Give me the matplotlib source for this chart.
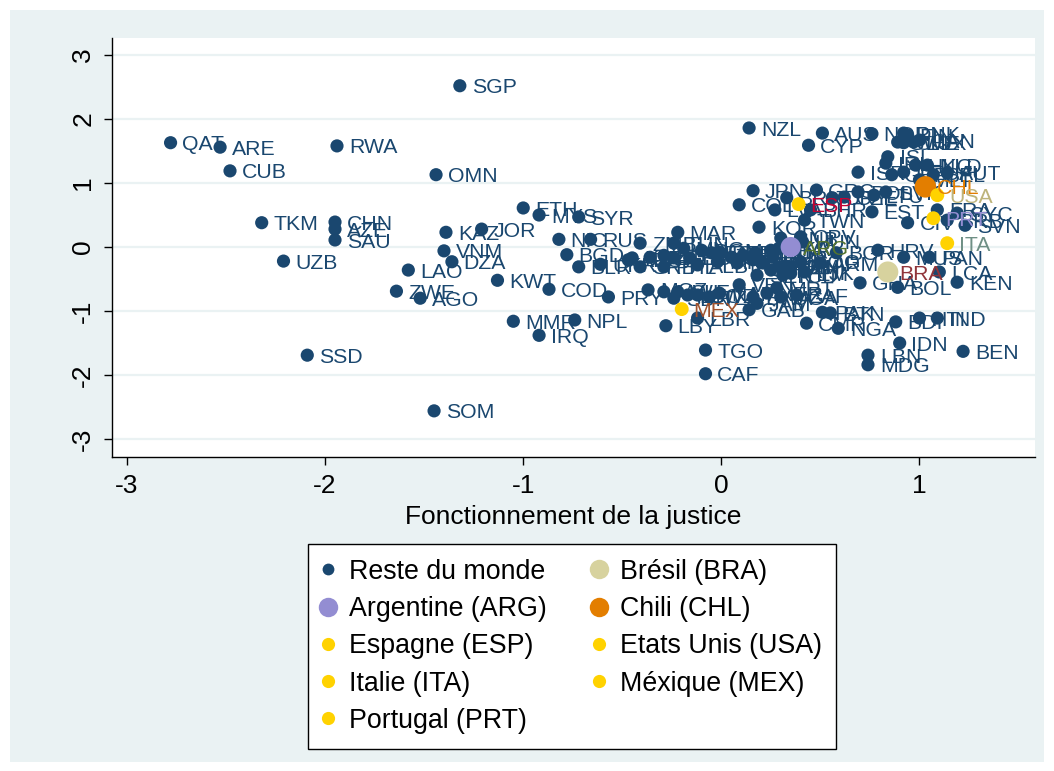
import numpy as np
import matplotlib
matplotlib.use('Agg')
import matplotlib.pyplot as plt
from matplotlib.lines import Line2D
from matplotlib.patches import Rectangle

plt.rcParams['font.family'] = ['Liberation Sans', 'DejaVu Sans']

# Reste du monde: code, fonctionnement de la justice (x), autre indice (y)
rest_codes = [
    'QAT', 'ARE', 'CUB', 'RWA', 'OMN', 'SGP', 'TKM', 'CHN', 'AZE', 'SAU',
    'UZB', 'SSD', 'SOM', 'KAZ', 'JOR', 'VNM', 'DZA', 'LAO', 'ZWE', 'AGO',
    'KWT', 'ETH', 'MYS', 'SYR', 'NIC', 'RUS', 'BGD', 'BLR', 'COD', 'PRY',
    'MMR', 'NPL', 'IRQ', 'LBY', 'TGO', 'CAF', 'MAR', 'ZMB', 'TUN', 'MNG',
    'DOM', 'ECU', 'PER', 'SLV', 'GTM', 'HND', 'THA', 'TUR', 'HUN', 'KOR',
    'IRN', 'EGY', 'GEO', 'BIH', 'SRB', 'KGZ', 'PHL', 'ALB', 'MKD', 'MNE',
    'SEN', 'BFA', 'TCD', 'GIN', 'COG', 'MOZ', 'MWI', 'SLE', 'LSO', 'SWZ',
    'TZA', 'NAM', 'VEN', 'BWA', 'NER', 'UGA', 'ZAF', 'LBR', 'GAB', 'JAM',
    'CMR', 'PAK', 'BTN', 'NGA', 'BDI', 'HTI', 'IND', 'IDN', 'LBN', 'MDG',
    'BEN', 'BGR', 'HRV', 'MUS', 'PAN', 'GHA', 'BOL', 'LCA', 'KEN', 'LKA',
    'CRI', 'TTO', 'KHM', 'ARM', 'TJK', 'YEM', 'MRT', 'SDN', 'UKR', 'AFG',
    'NZL', 'AUS', 'CYP', 'NOR', 'DNK', 'FIN', 'SWE', 'CHE', 'LUX', 'CAN',
    'ISL', 'IRL', 'ISR', 'GBR', 'DEU', 'HKG', 'NLD', 'AUT', 'BEL', 'MLT',
    'JPN', 'GRC', 'CZE', 'POL', 'LTU', 'SVK', 'COL', 'LVA', 'BRN', 'BHR',
    'URY', 'EST', 'CIV', 'FRA', 'SYC', 'BRB', 'SVN', 'TWN', 'GNB', 'CPV',
    'MLI']

rest_x = [
    -2.78, -2.53, -2.48, -1.94, -1.44, -1.32, -2.32, -1.95, -1.95, -1.95,
    -2.21, -2.09, -1.45, -1.39, -1.21, -1.40, -1.36, -1.58, -1.64, -1.52,
    -1.13, -1.00, -0.92, -0.72, -0.82, -0.66, -0.78, -0.72, -0.87, -0.57,
    -1.05, -0.74, -0.92, -0.28, -0.08, -0.08, -0.22, -0.41, -0.24, -0.19,
    -0.10, -0.05, -0.01, 0.05, 0.11, 0.17, 0.25, 0.26, 0.41, 0.19,
    -0.36, -0.29, -0.24, -0.16, -0.41, -0.45, -0.29, -0.12, -0.02, 0.08,
    0.18, 0.25, 0.31, 0.35, 0.40, -0.37, -0.29, -0.22, -0.17, -0.12,
    -0.06, -0.01, 0.09, 0.16, 0.23, 0.30, 0.38, -0.12, 0.14, 0.18,
    0.43, 0.51, 0.55, 0.59, 0.88, 1.00, 1.09, 0.90, 0.74, 0.74,
    1.22, 0.58, 0.79, 0.92, 1.05, 0.70, 0.89, 1.10, 1.19, 0.29,
    0.16, 0.21, 0.30, 0.50, 0.42, 0.35, 0.28, -0.24, -0.61, -0.47,
    0.14, 0.51, 0.44, 0.76, 0.92, 0.94, 0.89, 0.92, 0.97, 1.00,
    0.84, 0.83, 0.69, 0.86, 0.92, 0.98, 1.04, 1.14, 1.07, 1.00,
    0.16, 0.48, 0.62, 0.69, 0.77, 0.83, 0.09, 0.27, 0.33, 0.45,
    0.56, 0.76, 0.94, 1.09, 1.19, 1.14, 1.23, 0.42, 0.30, 0.40,
    0.32]

rest_y = [
    1.63, 1.56, 1.19, 1.58, 1.13, 2.52, 0.38, 0.39, 0.28, 0.11,
    -0.22, -1.69, -2.56, 0.23, 0.28, -0.06, -0.23, -0.36, -0.69, -0.80,
    -0.52, 0.61, 0.50, 0.47, 0.12, 0.12, -0.12, -0.31, -0.66, -0.78,
    -1.16, -1.14, -1.38, -1.23, -1.61, -1.98, 0.23, 0.06, 0.06, -0.02,
    -0.05, -0.09, -0.08, -0.16, -0.13, -0.09, -0.05, -0.16, 0.08, 0.31,
    -0.16, -0.13, -0.17, -0.17, -0.31, -0.17, -0.31, -0.28, -0.23, -0.25,
    -0.44, -0.36, -0.44, -0.31, -0.23, -0.67, -0.70, -0.70, -0.75, -0.75,
    -0.78, -0.72, -0.59, -0.78, -0.72, -0.78, -0.75, -1.11, -0.98, -0.88,
    -1.19, -1.02, -1.03, -1.27, -1.17, -1.11, -1.11, -1.50, -1.69, -1.84,
    -1.63, -0.09, -0.05, -0.16, -0.16, -0.56, -0.63, -0.39, -0.55, -0.02,
    -0.20, -0.25, -0.31, -0.25, -0.39, -0.41, -0.64, -0.80, -0.27, -0.20,
    1.86, 1.78, 1.59, 1.77, 1.78, 1.75, 1.64, 1.63, 1.64, 1.67,
    1.41, 1.31, 1.17, 1.13, 1.17, 1.28, 1.28, 1.16, 1.13, 1.05,
    0.88, 0.89, 0.78, 0.86, 0.81, 0.86, 0.66, 0.58, 0.77, 0.58,
    0.77, 0.55, 0.38, 0.58, 0.53, 0.42, 0.34, 0.42, 0.14, 0.16,
    -0.30]

# Pays mis en avant
hl_names = ['Brésil (BRA)', 'Argentine (ARG)', 'Chili (CHL)', 'Espagne (ESP)',
            'Etats Unis (USA)', 'Italie (ITA)', 'Méxique (MEX)',
            'Portugal (PRT)']
hl_codes = ['BRA', 'ARG', 'CHL', 'ESP', 'USA', 'ITA', 'MEX', 'PRT']
hl_x = [0.84, 0.35, 1.03, 0.39, 1.09, 1.14, -0.20, 1.07]
hl_y = [-0.39, 0.00, 0.94, 0.67, 0.81, 0.06, -0.97, 0.45]

x_ticks = [-3, -2, -1, 0, 1]
y_ticks = [-3, -2, -1, 0, 1, 2, 3]


def main():

    navy = '#1a476f'
    bg_col = '#eaf2f3'

    hl_mcol = ['#d7d29e', '#938dd2', '#e37e00', '#ffd200',
               '#ffd200', '#ffd200', '#ffd200', '#ffd200']
    hl_lcol = ['#90353b', '#55752f', '#e37e00', '#c10534',
               '#bdb47b', '#6e8f85', '#a0522d', '#938dd2']
    hl_size = [230, 210, 240, 100, 100, 100, 100, 100]

    W, H = 1054, 771
    fig = plt.figure(figsize=(W / 100, H / 100), dpi=100, facecolor='white')

    fig.patches.append(Rectangle(
        (10 / W, 9 / H), 1034 / W, 752 / H,
        transform=fig.transFigure, facecolor=bg_col, edgecolor='none',
        zorder=-5))

    ax = fig.add_axes([112 / W, 1 - 457 / H, (1035 - 112) / W, (457 - 38) / H])
    ax.set_zorder(1)
    ax.set_facecolor('white')

    ax.set_xlim(-3.0756, 1.583)
    ax.set_ylim(-3.281, 3.266)

    for sp in ['top', 'right']:
        ax.spines[sp].set_visible(False)
    for sp in ['left', 'bottom']:
        ax.spines[sp].set_color('black')
        ax.spines[sp].set_linewidth(1.0)

    ax.set_xticks(x_ticks)
    ax.set_yticks(y_ticks)
    ax.set_xticklabels([str(v) for v in x_ticks], fontsize=19)
    ax.set_yticklabels([str(v) for v in y_ticks], fontsize=19,
                       rotation=90, va='center')
    ax.tick_params(axis='both', length=6, width=1, color='black', pad=6)

    ax.yaxis.grid(True, color=bg_col, lw=1.6)
    ax.set_axisbelow(True)

    ax.set_xlabel('Fonctionnement de la justice', fontsize=19, labelpad=5)

    ax.scatter(rest_x, rest_y, s=90, c=navy, edgecolors='none', zorder=3)
    for code, xv, yv in zip(rest_codes, rest_x, rest_y):
        ax.annotate(code, (xv, yv), xytext=(8.5, -1.5),
                    textcoords='offset points', va='center', ha='left',
                    fontsize=15.3, color=navy, zorder=4)

    for i in range(len(hl_codes)):
        ax.scatter(hl_x[i], hl_y[i], s=hl_size[i], c=hl_mcol[i],
                   edgecolors='none', zorder=5)
        ax.annotate(hl_codes[i], (hl_x[i], hl_y[i]), xytext=(8.5, -1.5),
                    textcoords='offset points', va='center', ha='left',
                    fontsize=15.3, color=hl_lcol[i], zorder=6)

    # legend, Stata style: row-major over two columns
    def mk(col, ms):
        return Line2D([], [], ls='none', marker='o', color=col,
                      markeredgecolor='none', markersize=ms)

    hd = {'Reste du monde': mk(navy, 8.5)}
    for i, name in enumerate(hl_names):
        hd[name] = mk(hl_mcol[i], 14 if hl_size[i] > 150 else 9.5)

    order = ['Reste du monde', 'Argentine (ARG)', 'Espagne (ESP)',
             'Italie (ITA)', 'Portugal (PRT)',
             'Brésil (BRA)', 'Chili (CHL)', 'Etats Unis (USA)',
             'Méxique (MEX)']

    leg = fig.legend([hd[k] for k in order], order, ncol=2,
                     loc='upper left', bbox_to_anchor=(308 / W, 1 - 544 / H),
                     frameon=True, fancybox=False, fontsize=19.3,
                     borderaxespad=0, handlelength=0.4, handletextpad=0.58,
                     columnspacing=1.74, labelspacing=0.42, borderpad=0.55)
    leg.get_frame().set_edgecolor('black')
    leg.get_frame().set_linewidth(1.0)
    leg.get_frame().set_facecolor('white')
    leg.get_frame().set_alpha(1.0)

    fig.savefig('out.png', dpi=100, facecolor='white')
    plt.close()
    return


if __name__ == '__main__':
    main()
